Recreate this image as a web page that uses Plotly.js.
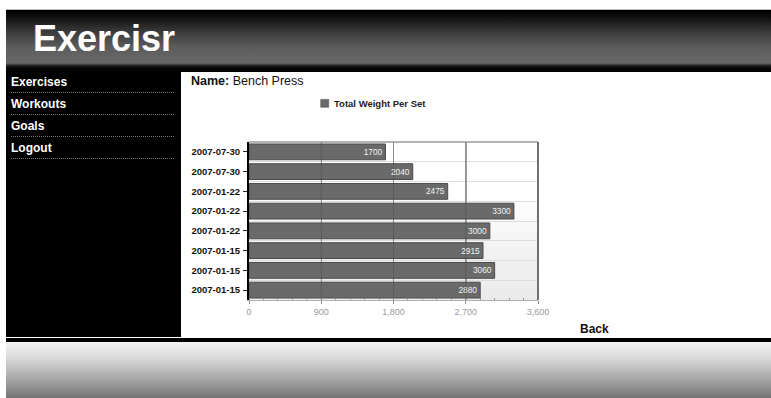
<!DOCTYPE html>
<html>
<head>
<meta charset="utf-8">
<script src="https://cdn.plot.ly/plotly-3.0.1.min.js"></script>
<style>
  html, body { margin: 0; padding: 0; background: #fff; width: 771px; height: 398px; overflow: hidden; font-family: "Liberation Sans", Arial, sans-serif; }
  #header { position: absolute; left: 6px; top: 9px; width: 765px; height: 63px;
    background: linear-gradient(to bottom, #000 0%, #0c0c0c 10%, #3a3a3a 35%, #5c5c5c 60%, #686868 84%, #5a5a5a 87%, #262626 89%, #0a0a0a 93%, #000 100%);
    border-top: 1px solid #bbb; box-sizing: border-box; }
  #logo { position: absolute; left: 27px; top: 9px; color: #fff; font-weight: bold; font-size: 36px; line-height: 40px; letter-spacing: 0px; }
  #sidebar { position: absolute; left: 6px; top: 72px; width: 175px; height: 265px; background: #000; }
  .nav { position: absolute; left: 5px; width: 163px; color: #fff; font-weight: bold; font-size: 12px; line-height: 14px; }
  .sep { position: absolute; left: 5px; width: 163px; height: 0; border-top: 1px dotted #777; }
  #content { position: absolute; left: 181px; top: 72px; width: 590px; height: 265px; background: #fff; }
  #name { position: absolute; left: 191px; top: 73px; font-size: 12.5px; line-height: 16px; color: #111; }
  #back { position: absolute; left: 580px; top: 322px; font-size: 12px; font-weight: bold; line-height: 14px; color: #111; }
  #plotbg { position: absolute; left: 249px; top: 142px; width: 289px; height: 158px;
    background: linear-gradient(to bottom, #ffffff 0%, #ffffff 35%, #f0f0f0 75%, #ebebeb 100%); }
  #chart { position: absolute; left: 180px; top: 72px; width: 380px; height: 265px; }
  #footline { position: absolute; left: 6px; top: 338px; width: 765px; height: 4px; background: #000; }
  #footer { position: absolute; left: 6px; top: 342px; width: 765px; height: 56px;
    background: linear-gradient(to bottom, #f4f4f4 0%, #d8d8d8 30%, #a8a8a8 65%, #747474 100%); }
</style>
</head>
<body>
<div id="header"><div id="logo">Exercisr</div></div>
<div id="sidebar">
  <div class="nav" style="top:3px">Exercises</div>
  <div class="sep" style="top:20px"></div>
  <div class="nav" style="top:25px">Workouts</div>
  <div class="sep" style="top:42px"></div>
  <div class="nav" style="top:47px">Goals</div>
  <div class="sep" style="top:64px"></div>
  <div class="nav" style="top:69px">Logout</div>
  <div class="sep" style="top:86px"></div>
</div>
<div id="content"></div>
<div id="name"><b>Name:</b> Bench Press</div>
<div id="plotbg"></div>
<div id="chart"></div>
<div id="back">Back</div>
<div id="footline"></div>
<div id="footer"></div>
<script>
// ---- data ----
const dates = ["2007-07-30", "2007-07-30", "2007-01-22", "2007-01-22", "2007-01-22", "2007-01-15", "2007-01-15", "2007-01-15"];
const totals = [1700, 2040, 2475, 3300, 3000, 2915, 3060, 2880];
const seriesName = "Total Weight Per Set";
const xTicks = [0, 900, 1800, 2700, 3600];
const xTickLabels = ["0", "900", "1,800", "2,700", "3,600"];

const rowIdx = dates.map((d, i) => i);
const FONT = '"Liberation Sans", Arial, sans-serif';

const trace = {
  type: 'bar',
  orientation: 'h',
  name: seriesName,
  x: totals,
  y: rowIdx,
  text: totals.map(String),
  textposition: 'inside',
  insidetextanchor: 'end',
  textangle: 0,
  textfont: { family: FONT, size: 8.5, color: '#f2f2f2' },
  marker: { color: '#6a6a6a', line: { color: '#4c4c4c', width: 1 } },
  hoverinfo: 'skip'
};

const gridAbove = xTicks.slice(1, -1).map(v => ({
  type: 'line', xref: 'x', yref: 'paper', x0: v, x1: v, y0: 0, y1: 1,
  line: { color: 'rgba(40,40,40,0.22)', width: 1 }, layer: 'above'
}));

const layout = {
  width: 380, height: 265,
  margin: { l: 69, r: 22, t: 70, b: 37, pad: 0 },
  paper_bgcolor: 'rgba(0,0,0,0)',
  plot_bgcolor: 'rgba(0,0,0,0)',
  showlegend: false,
  bargap: 0.2,
  font: { family: FONT },
  xaxis: {
    range: [0, 3600],
    tickmode: 'array', tickvals: xTicks, ticktext: xTickLabels,
    showgrid: true, gridcolor: '#a8a8a8', gridwidth: 1.5,
    zeroline: false,
    showline: true, linecolor: '#b0b0b0', linewidth: 1,
    ticks: 'outside', ticklen: 3, tickcolor: '#888', tickwidth: 1,
    tickfont: { family: FONT, size: 9, color: '#9a9a9a' },
    minor: { dtick: 180, ticks: 'inside', ticklen: 2, tickcolor: '#999', showgrid: false },
    fixedrange: true
  },
  yaxis: {
    range: [7.5, -0.5],
    tickmode: 'array', tickvals: rowIdx, ticktext: dates,
    showgrid: false, zeroline: false,
    showline: true, linecolor: '#000', linewidth: 2,
    ticks: 'outside', ticklen: 4, tickcolor: '#222', tickwidth: 1,
    ticklabelstandoff: 1,
    tickfont: { family: FONT, size: 9.5, color: '#111', weight: 'bold' },
    minor: { tick0: 0.5, dtick: 1, showgrid: true, gridcolor: '#dddddd', gridwidth: 1, ticks: '' },
    fixedrange: true
  },
  shapes: [
    { type: 'line', xref: 'paper', yref: 'paper', x0: 0, x1: 1, y0: 1, y1: 1, line: { color: '#9a9a9a', width: 1.5 } },
    { type: 'line', xref: 'paper', yref: 'paper', x0: 1, x1: 1, y0: 0, y1: 1, line: { color: '#707070', width: 2 } },
    // legend swatch
    { type: 'rect', xref: 'paper', yref: 'paper', x0: 0.248, x1: 0.276, y0: 1.2196, y1: 1.270,
      fillcolor: '#6a6a6a', line: { color: '#555', width: 0.5 } }
  ].concat(gridAbove),
  annotations: [
    { xref: 'paper', yref: 'paper', x: 0.2907, y: 1.2468, xanchor: 'left', yanchor: 'middle',
      text: '<b>' + seriesName + '</b>', showarrow: false, borderpad: 0,
      font: { family: FONT, size: 9.5, color: '#222' } }
  ]
};

Plotly.newPlot('chart', [trace], layout, { displayModeBar: false, staticPlot: true });
</script>
</body>
</html>
